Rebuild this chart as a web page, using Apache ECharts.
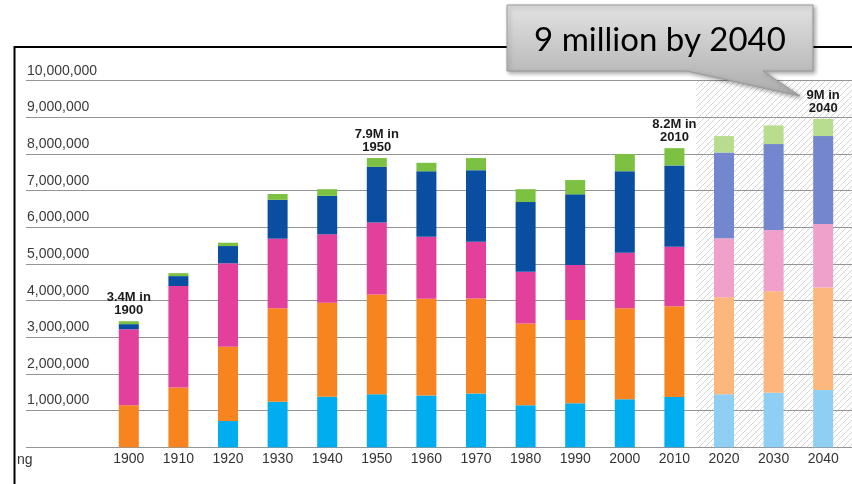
<!DOCTYPE html>
<html>
<head>
<meta charset="utf-8">
<script src="https://cdn.jsdelivr.net/npm/echarts@6/dist/echarts.min.js"></script>
<style>
  html, body { margin: 0; padding: 0; background: #fff; }
  #chart { width: 852px; height: 484px; }
</style>
</head>
<body>
<div id="chart"></div>
<script>
// decades on the x axis
const years = ['1900', '1910', '1920', '1930', '1940', '1950', '1960', '1970', '1980', '1990', '2000', '2010', '2020', '2030', '2040']
// projected decades are drawn lighter, on the hatched background
const projected = [false, false, false, false, false, false, false, false, false, false, false, false, true, true, true]

// stacked bands, bottom to top
const band1 = [0, 0, 720000, 1240000, 1380000, 1450000, 1410000, 1470000, 1150000, 1200000, 1310000, 1370000, 1450000, 1490000, 1560000]
const band2 = [1150000, 1630000, 2020000, 2550000, 2560000, 2720000, 2640000, 2590000, 2230000, 2270000, 2480000, 2480000, 2640000, 2770000, 2800000]
const band3 = [2070000, 2770000, 2280000, 1900000, 1870000, 1960000, 1690000, 1550000, 1410000, 1500000, 1520000, 1620000, 1610000, 1670000, 1730000]
const band4 = [140000, 270000, 470000, 1060000, 1050000, 1520000, 1790000, 1950000, 1900000, 1930000, 2220000, 2220000, 2340000, 2340000, 2400000]
const band5 = [80000, 80000, 90000, 160000, 180000, 240000, 230000, 330000, 350000, 390000, 470000, 470000, 450000, 510000, 470000]

// notes over some of the bars
const notes = ['3.4M in\n1900', '', '', '', '', '7.9M in\n1950', '', '', '', '', '', '8.2M in\n2010', '', '', '9M in\n2040']

const yTicks = [0, 10000000, 1000000] // min, max, step
const callout = '9 million by 2040'

const bands = [
  { name: 'band1', data: band1, color: '#00aeef', light: '#8fcff3' },
  { name: 'band2', data: band2, color: '#f7841f', light: '#fcb77c' },
  { name: 'band3', data: band3, color: '#e2409a', light: '#efa0cb' },
  { name: 'band4', data: band4, color: '#0a4ea2', light: '#7486cd' },
  { name: 'band5', data: band5, color: '#7cc142', light: '#b8dd8f' }
]

const font = '"Liberation Sans", Arial, sans-serif'
let myChart = echarts.init(document.getElementById('chart'))

// diagonal hatch for the projection area
function hatch() {
  let c = document.createElement('canvas')
  c.width = 6
  c.height = 6
  let ctx = c.getContext('2d')
  ctx.strokeStyle = '#cacaca'
  ctx.lineWidth = 0.8
  ctx.beginPath()
  ctx.moveTo(0, 6); ctx.lineTo(6, 0)
  ctx.moveTo(-1, 1); ctx.lineTo(1, -1)
  ctx.moveTo(5, 7); ctx.lineTo(7, 5)
  ctx.stroke()
  return c
}

let series = bands.map(function (b, i) {
  let s = {
    name: b.name,
    type: 'bar',
    stack: 'total',
    xAxisIndex: 1,
    yAxisIndex: 1,
    barWidth: 20,
    z: 3,
    data: b.data.map(function (v, k) {
      return { value: v, itemStyle: { color: projected[k] ? b.light : b.color } }
    })
  }
  if (i === bands.length - 1) {
    s.label = {
      show: true,
      position: 'top',
      distance: 4,
      fontFamily: font,
      fontWeight: 'bold',
      fontSize: 13,
      lineHeight: 13,
      color: '#1a1a1a',
      formatter: function (p) { return notes[p.dataIndex] }
    }
  }
  return s
})

myChart.setOption({
  animation: false,
  grid: [
    { left: 26, right: 0, top: 80.7, bottom: 36.7 },
    { left: 104, right: 4, top: 80.7, bottom: 36.7 }
  ],
  xAxis: [
    { type: 'value', gridIndex: 0, show: false, min: 0, max: 1 },
    {
      type: 'category',
      gridIndex: 1,
      data: years,
      axisLine: { show: false },
      axisTick: { show: false },
      axisLabel: { fontFamily: font, fontSize: 14, color: '#333', margin: 5 }
    }
  ],
  yAxis: [
    {
      type: 'value',
      gridIndex: 0,
      min: yTicks[0],
      max: yTicks[1],
      interval: yTicks[2],
      axisLine: { show: false },
      axisTick: { show: false },
      splitLine: { lineStyle: { color: '#959595', width: 1 } },
      axisLabel: {
        inside: true,
        margin: 1,
        align: 'left',
        verticalAlign: 'bottom',
        padding: [0, 0, 3, 0],
        fontFamily: font,
        fontSize: 14,
        color: '#3a3a3a',
        formatter: function (v) { return v === 0 ? '' : v.toLocaleString('en-US') }
      }
    },
    { type: 'value', gridIndex: 1, show: false, min: yTicks[0], max: yTicks[1] }
  ],
  series: series
})

// positions taken from the axes once they exist
let band = myChart.getWidth() - 104 - 4
band = band / years.length
let hx = myChart.convertToPixel({ xAxisIndex: 1 }, '2020') - band / 2 - 3
let hTop = myChart.convertToPixel({ yAxisIndex: 1 }, yTicks[1])
let hBot = myChart.convertToPixel({ yAxisIndex: 1 }, 0)

myChart.setOption({
  graphic: [
    {
      type: 'rect',
      z: -1,
      shape: { x: hx, y: hTop, width: myChart.getWidth() - hx, height: hBot - hTop },
      style: { fill: { image: hatch(), repeat: 'repeat' } }
    },
    // frame
    { type: 'line', shape: { x1: 14, y1: 47, x2: 852, y2: 47 }, style: { stroke: '#000', lineWidth: 2 }, z: 10 },
    { type: 'line', shape: { x1: 14.5, y1: 46, x2: 14.5, y2: 484 }, style: { stroke: '#000', lineWidth: 2 }, z: 10 },
    { type: 'text', left: 17, top: 453, style: { text: 'ng', font: '14px ' + font, fill: '#333' } },
    // speech bubble
    {
      type: 'polygon',
      z: 20,
      shape: { points: [[507, 5], [813, 5], [813, 71], [763, 71], [800, 96], [687, 71], [507, 71]] },
      style: {
        fill: new echarts.graphic.LinearGradient(0, 0, 0, 1, [
          { offset: 0, color: '#e2e2e2' },
          { offset: 1, color: '#acacac' }
        ]),
        stroke: '#999',
        lineWidth: 1,
        shadowBlur: 4,
        shadowOffsetX: 2,
        shadowOffsetY: 2,
        shadowColor: 'rgba(0,0,0,0.35)'
      }
    },
    {
      type: 'text',
      z: 21,
      x: 660,
      y: 40,
      style: {
        text: callout,
        font: '33px Lato, "Open Sans", sans-serif',
        fill: '#000',
        align: 'center',
        verticalAlign: 'middle'
      }
    }
  ]
})
</script>
</body>
</html>
